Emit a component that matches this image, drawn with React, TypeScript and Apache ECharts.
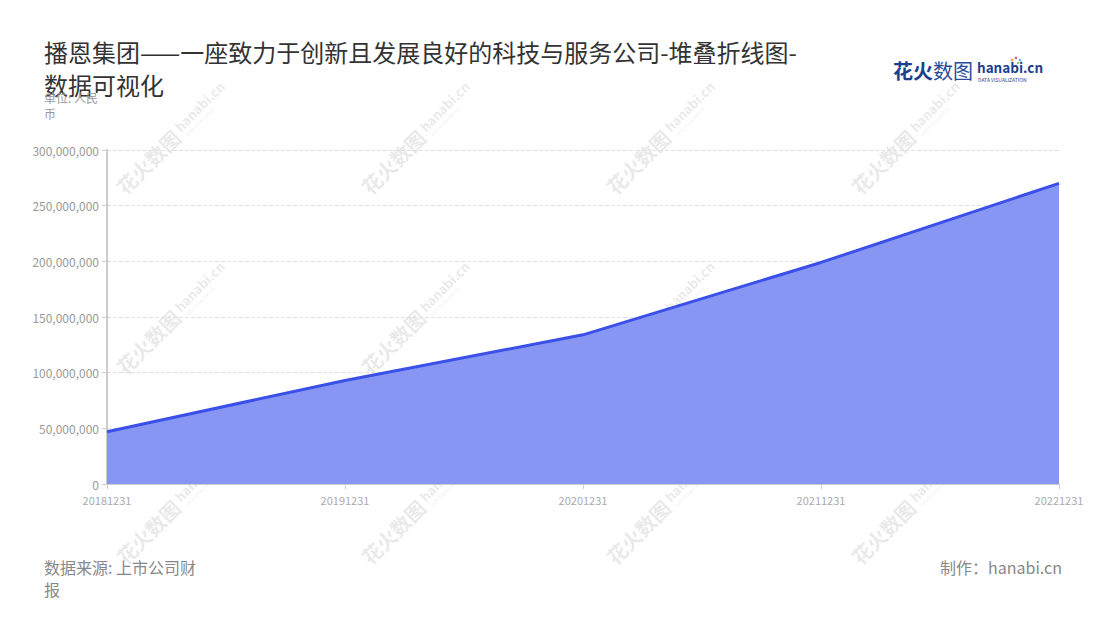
import React, { useEffect, useRef } from "react";
import * as echarts from "echarts";

const categories = ["20181231", "20191231", "20201231", "20211231", "20221231"];
const revenue = [47000000, 93000000, 134000000, 199000000, 270000000];
const yTicks = { min: 0, max: 300000000, interval: 50000000 };

const titleText = "播恩集团——一座致力于创新且发展良好的科技与服务公司-堆叠折线图-数据可视化";
const unitText = "单位: 人民币";
const sourceText = "数据来源: 上市公司财报";
const makerText = "制作：hanabi.cn";

const FONT = '"Noto Sans CJK SC", "Noto Sans", sans-serif';

function watermark(cx: number, cy: number) {
  const c = "rgba(170,170,170,0.26)";
  return {
    type: "group",
    x: cx,
    y: cy,
    rotation: Math.PI / 4,
    silent: true,
    z: 100,
    children: [
      {
        type: "text",
        x: -64,
        y: 0,
        style: { text: "花火数图", fontSize: 20, fontWeight: "bold", fill: c, fontFamily: FONT, verticalAlign: "middle" },
      },
      {
        type: "text",
        x: 20,
        y: -3,
        style: { text: "hanabi.cn", fontSize: 13, fontWeight: "bold", fill: c, fontFamily: FONT, verticalAlign: "middle" },
      },
      {
        type: "text",
        x: 22,
        y: 8,
        style: { text: "DATA VISUALIZATION", fontSize: 4, fill: c, fontFamily: FONT, verticalAlign: "middle" },
      },
    ],
  };
}

export default function App() {
  const ref = useRef<HTMLDivElement>(null);
  useEffect(() => {
    document.body.style.margin = "0";
    if (!ref.current) return;
    const chart = echarts.init(ref.current, undefined, { renderer: "svg" });
    const marks: any[] = [];
    const xs = [165, 410, 655, 900];
    const ys = [145, 325, 515];
    xs.forEach((x) => ys.forEach((y) => marks.push(watermark(x, y))));
    chart.setOption({
      animation: false,
      backgroundColor: "#fff",
      title: {
        text: titleText,
        left: 39,
        top: 30,
        textStyle: {
          fontSize: 24,
          fontWeight: "normal",
          color: "#333",
          fontFamily: FONT,
          width: 766,
          overflow: "break",
          lineHeight: 33,
        },
      },
      grid: { left: 107, right: 41, top: 150, bottom: 136, containLabel: false },
      xAxis: {
        type: "category",
        data: categories,
        boundaryGap: false,
        axisLine: { lineStyle: { color: "#ccc" } },
        axisTick: { show: true, lineStyle: { color: "#ccc" } },
        axisLabel: { color: "#aaa", fontSize: 11, fontFamily: FONT, margin: 10 },
      },
      yAxis: {
        type: "value",
        min: yTicks.min,
        max: yTicks.max,
        interval: yTicks.interval,
        axisLine: { show: true, lineStyle: { color: "#ccc", width: 2 } },
        axisTick: { show: true, lineStyle: { color: "#ccc" } },
        axisLabel: {
          color: "#999",
          fontSize: 12,
          fontFamily: FONT,
          margin: 8,
          formatter: (v: number) => v.toLocaleString("en-US"),
        },
        splitLine: { lineStyle: { color: "#e0e0e0", type: "dashed" } },
      },
      series: [
        {
          type: "line",
          name: "营业收入",
          data: revenue,
          stack: "total",
          symbol: "none",
          lineStyle: { color: "#3a50e8", width: 3 },
          itemStyle: { color: "#3a50e8" },
          areaStyle: { color: "#8796f2", opacity: 1 },
        },
      ],
      graphic: [
        ...marks,
        {
          type: "text",
          left: 44,
          top: 89,
          z: 50,
          style: {
            text: unitText,
            width: 62,
            overflow: "break",
            fontSize: 12,
            lineHeight: 16,
            fill: "#999",
            fontFamily: FONT,
          },
        },
        {
          type: "text",
          left: 44,
          top: 556,
          style: {
            text: sourceText,
            width: 166,
            overflow: "break",
            fontSize: 16,
            lineHeight: 22,
            fill: "#888",
            fontFamily: FONT,
          },
        },
        {
          type: "text",
          right: 38,
          top: 556,
          style: { text: makerText, fontSize: 16, lineHeight: 22, fill: "#888", fontFamily: FONT },
        },
        {
          type: "text",
          left: 893,
          top: 60,
          style: { text: "花火", fontSize: 20, fontWeight: "bold", fill: "#1d3f8f", fontFamily: FONT },
        },
        {
          type: "text",
          left: 933,
          top: 60,
          style: { text: "数图", fontSize: 20, fontWeight: "normal", fill: "#2a4a9a", fontFamily: FONT },
        },
        {
          type: "text",
          left: 977,
          top: 60,
          style: { text: "hanabi.cn", fontSize: 13.5, fontWeight: "bold", fill: "#1d3f8f", fontFamily: FONT },
        },
        {
          type: "text",
          left: 978,
          top: 77,
          style: { text: "DATA VISUALIZATION", fontSize: 5, fill: "#1d3f8f", fontFamily: FONT },
        },
        { type: "circle", shape: { cx: 1012, cy: 60, r: 1.3 }, style: { fill: "#f5a623" } },
        { type: "circle", shape: { cx: 1016, cy: 58, r: 1.3 }, style: { fill: "#e94f8a" } },
        { type: "circle", shape: { cx: 1020, cy: 60, r: 1.3 }, style: { fill: "#4fc3f7" } },
        { type: "circle", shape: { cx: 1018, cy: 63, r: 1.1 }, style: { fill: "#8bc34a" } },
      ],
    });
    return () => chart.dispose();
  }, []);
  return <div ref={ref} style={{ width: 1100, height: 620 }} />;
}
